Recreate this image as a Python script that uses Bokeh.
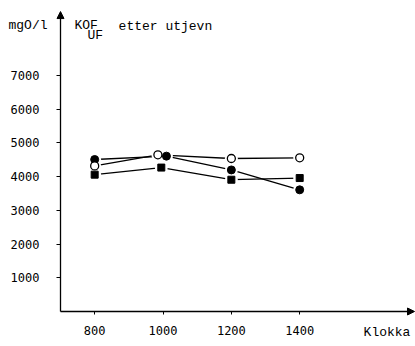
from bokeh.plotting import figure
from bokeh.models import Arrow, NormalHead, Label, FixedTicker, Range1d
from bokeh.embed import file_html
from bokeh.resources import INLINE

# data
x_filled = [800, 1010, 1200, 1400]
y_filled = [4510, 4610, 4200, 3610]
x_open = [800, 985, 1200, 1400]
y_open = [4320, 4650, 4540, 4560]
x_square = [800, 995, 1200, 1400]
y_square = [4060, 4270, 3910, 3960]
x_ticks = [800, 1000, 1200, 1400]
y_ticks = [1000, 2000, 3000, 4000, 5000, 6000, 7000]

MONO = "Liberation Mono"
TICKF = "DejaVu Sans Mono"

# frame covers the whole canvas; axes sit at x=700, y=0
p = figure(width=415, height=346, output_backend="svg", toolbar_location=None,
           x_range=Range1d(524.4, 1738.9), y_range=Range1d(-1038.6, 9228),
           min_border_left=0, min_border_right=0, min_border_top=0, min_border_bottom=0)
p.outline_line_color = None
p.grid.visible = False
p.background_fill_color = "white"

for ax in (p.xaxis[0], p.yaxis[0]):
    ax.axis_line_color = None
    ax.minor_tick_line_color = None
    ax.major_tick_in = 0
    ax.major_tick_line_color = "black"
    ax.major_tick_line_width = 1
    ax.major_label_text_font = TICKF
    ax.major_label_text_font_size = "12px"
    ax.major_label_text_color = "black"

p.xaxis[0].fixed_location = 0
p.yaxis[0].fixed_location = 700
p.xaxis[0].ticker = FixedTicker(ticks=x_ticks)
p.xaxis[0].major_tick_out = 3
p.xaxis[0].major_label_standoff = 12
p.yaxis[0].ticker = FixedTicker(ticks=y_ticks)
p.yaxis[0].major_tick_out = 4
p.yaxis[0].major_label_standoff = 17

# axes with arrows
p.add_layout(Arrow(end=NormalHead(size=7, fill_color="black", line_color="black"),
                   x_start=700, y_start=0, x_end=700, y_end=8900,
                   line_color="black", line_width=1.3))
p.add_layout(Arrow(end=NormalHead(size=7, fill_color="black", line_color="black"),
                   x_start=700, y_start=0, x_end=1736, y_end=0,
                   line_color="black", line_width=1.3))

# series lines
for xs, ys in ((x_filled, y_filled), (x_open, y_open), (x_square, y_square)):
    p.line(xs, ys, line_color="black", line_width=1.3)

# white halos to leave gaps around markers
for xs, ys in ((x_filled, y_filled), (x_open, y_open), (x_square, y_square)):
    p.scatter(xs, ys, size=13, marker="circle", fill_color="white", line_color=None)

p.scatter(x_filled, y_filled, size=8, marker="circle", fill_color="black", line_color="black")
p.scatter(x_open, y_open, size=8, marker="circle", fill_color="white", line_color="black", line_width=1.3)
p.scatter(x_square, y_square, size=7, marker="square", fill_color="black", line_color="black")

# texts
def lab(x, y, t):
    p.add_layout(Label(x=x, y=y, text=t, text_font=MONO, text_font_size="13px",
                       text_baseline="middle", text_align="left", text_color="black"))

lab(547.8, 8487, "mgO/l")
lab(741, 8487, "KOF")
lab(779, 8190, "UF")
lab(870, 8457, "etter utjevn")
lab(1587, -623, "Klokka")

open("out.html", "w").write(file_html(p, INLINE))
